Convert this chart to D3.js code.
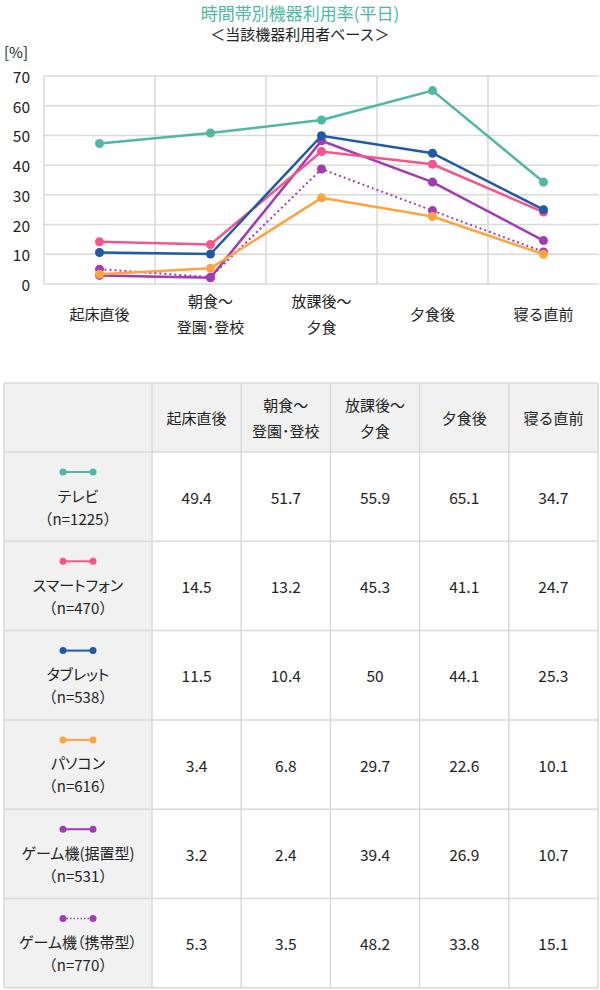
<!DOCTYPE html>
<html>
<head>
<meta charset="utf-8">
<script src="https://cdn.jsdelivr.net/npm/d3@7"></script>
<style>
  body { margin: 0; background: #fff; }
  svg { display: block; font-family: "Noto Sans CJK JP", "Noto Sans", sans-serif; }
  .palt { font-feature-settings: "palt"; }
</style>
</head>
<body>
<div id="chart"></div>
<script>
// ---------------- data ----------------
var categories = [["起床直後"], ["朝食～", "登園･登校"], ["放課後～", "夕食"], ["夕食後"], ["寝る直前"]];
var devices = ["テレビ", "スマートフォン", "タブレット", "パソコン", "ゲーム機(据置型)", "ゲーム機（携帯型）"];
var sampleSizes = ["（n=1225）", "（n=470）", "（n=538）", "（n=616）", "（n=531）", "（n=770）"];
var colors = ["#4fb8a5", "#f5558b", "#1f5aa6", "#ffa43d", "#a23bb3", "#a23bb3"];
var dotted = [false, false, false, false, false, true];

// values shown in the table
var tableValues = [
    ["49.4", "51.7", "55.9", "65.1", "34.7"],
    ["14.5", "13.2", "45.3", "41.1", "24.7"],
    ["11.5", "10.4", "50", "44.1", "25.3"],
    ["3.4", "6.8", "29.7", "22.6", "10.1"],
    ["3.2", "2.4", "39.4", "26.9", "10.7"],
    ["5.3", "3.5", "48.2", "33.8", "15.1"]
];

// values as plotted in the line chart
var chartValues = [
    [47.3, 50.8, 55.2, 65.1, 34.3],
    [14.2, 13.3, 44.6, 40.3, 24.2],
    [10.6, 10.1, 49.9, 44.0, 25.0],
    [3.3, 5.3, 29.0, 22.7, 10.0],
    [2.9, 2.1, 48.2, 34.3, 14.6],
    [5.0, 2.3, 38.7, 24.7, 10.8]
];
var drawOrder = [5, 4, 1, 0, 2, 3];
var yTicks = [0, 10, 20, 30, 40, 50, 60, 70];

// ---------------- layout ----------------
var W = 600, H = 990;
var plot = {left: 44, right: 599, top: 76, bottom: 284};
var table = {left: 4, right: 598, top: 383, headH: 69, rowH: 89.3, firstW: 148};

var svg = d3.select("#chart").append("svg")
    .attr("width", W)
    .attr("height", H);

// titles
svg.append("text")
    .attr("x", 300).attr("y", 12)
    .attr("text-anchor", "middle")
    .attr("dominant-baseline", "central")
    .attr("fill", "#4fb8a5")
    .style("font-size", "17px")
    .text("時間帯別機器利用率(平日)");

svg.append("text")
    .attr("x", 300).attr("y", 33)
    .attr("text-anchor", "middle")
    .attr("dominant-baseline", "central")
    .attr("fill", "#222")
    .style("font-size", "15px")
    .text("＜当該機器利用者ベース＞");

svg.append("text")
    .attr("x", 4).attr("y", 51)
    .attr("dominant-baseline", "central")
    .attr("fill", "#222")
    .style("font-size", "15px")
    .text("[%]");

// scales
var x = d3.scaleBand()
    .domain(d3.range(categories.length))
    .range([plot.left, plot.right]);

var y = d3.scaleLinear()
    .domain([0, 70])
    .range([plot.bottom, plot.top]);

// grid
var grid = svg.append("g").attr("class", "grid");
grid.selectAll(".hline")
    .data(yTicks)
    .enter().append("line")
    .attr("x1", plot.left).attr("x2", plot.right)
    .attr("y1", function(d) { return y(d); })
    .attr("y2", function(d) { return y(d); })
    .attr("stroke", "#d9d9d9")
    .attr("stroke-width", 1.5);

grid.selectAll(".vline")
    .data(d3.range(categories.length))
    .enter().append("line")
    .attr("x1", function(d) { return x(d); })
    .attr("x2", function(d) { return x(d); })
    .attr("y1", plot.top).attr("y2", plot.bottom)
    .attr("stroke", "#d9d9d9")
    .attr("stroke-width", 1.5);

// y axis labels
svg.append("g").selectAll("text")
    .data(yTicks)
    .enter().append("text")
    .attr("x", 30)
    .attr("y", function(d) { return y(d); })
    .attr("text-anchor", "end")
    .attr("dominant-baseline", "central")
    .attr("fill", "#222")
    .style("font-size", "15.5px")
    .text(function(d) { return d; });

// x axis labels
var xl = svg.append("g").selectAll("text")
    .data(categories)
    .enter().append("text")
    .attr("text-anchor", "middle")
    .attr("fill", "#222")
    .style("font-size", "15px");

xl.each(function(d, i) {
    var t = d3.select(this);
    var cx = x(i) + x.bandwidth() / 2;
    var y0 = d.length === 1 ? 313 : 300;
    d.forEach(function(s, j) {
        t.append("tspan")
            .attr("x", cx)
            .attr("y", y0 + j * 26)
            .attr("dominant-baseline", "central")
            .text(s);
    });
});

// lines
var line = d3.line()
    .x(function(d, i) { return x(i) + x.bandwidth() / 2; })
    .y(function(d) { return y(d); });

var series = svg.append("g").attr("class", "series").selectAll("g")
    .data(drawOrder)
    .enter().append("g");

series.append("path")
    .attr("d", function(k) { return line(chartValues[k]); })
    .attr("fill", "none")
    .attr("stroke", function(k) { return colors[k]; })
    .attr("stroke-width", function(k) { return dotted[k] ? 2 : 2.5; })
    .attr("stroke-dasharray", function(k) { return dotted[k] ? "2,3" : null; });

series.selectAll("circle")
    .data(function(k) { return chartValues[k].map(function(v) { return {v: v, k: k}; }); })
    .enter().append("circle")
    .attr("cx", function(d, i) { return x(i) + x.bandwidth() / 2; })
    .attr("cy", function(d) { return y(d.v); })
    .attr("r", 4.5)
    .attr("fill", function(d) { return colors[d.k]; });

// ---------------- table ----------------
var colW = (table.right - table.left - table.firstW) / categories.length;
var colX = function(c) { return table.left + table.firstW + c * colW; };
var rowY = function(r) { return table.top + table.headH + r * table.rowH; };
var tableBottom = rowY(devices.length);

var tg = svg.append("g").attr("class", "table");

// backgrounds
tg.append("rect")
    .attr("x", table.left).attr("y", table.top)
    .attr("width", table.right - table.left).attr("height", table.headH)
    .attr("fill", "#f1f1f1");
tg.append("rect")
    .attr("x", table.left).attr("y", table.top)
    .attr("width", table.firstW).attr("height", tableBottom - table.top)
    .attr("fill", "#f1f1f1");

// borders
var hLines = [table.top].concat(d3.range(devices.length + 1).map(rowY));
tg.selectAll(".th")
    .data(hLines)
    .enter().append("line")
    .attr("x1", table.left).attr("x2", table.right)
    .attr("y1", function(d) { return d; }).attr("y2", function(d) { return d; })
    .attr("stroke", "#d9d9d9").attr("stroke-width", 1.5);

var vLines = [table.left].concat(d3.range(categories.length + 1).map(colX));
tg.selectAll(".tv")
    .data(vLines)
    .enter().append("line")
    .attr("x1", function(d) { return d; }).attr("x2", function(d) { return d; })
    .attr("y1", table.top).attr("y2", tableBottom)
    .attr("stroke", "#d9d9d9").attr("stroke-width", 1.5);

// header
categories.forEach(function(c, i) {
    var t = tg.append("text")
        .attr("text-anchor", "middle")
        .attr("fill", "#222")
        .style("font-size", "15px");
    var cy = table.top + table.headH / 2;
    var y0 = c.length === 1 ? cy : cy - 13;
    c.forEach(function(s, j) {
        t.append("tspan")
            .attr("x", colX(i) + colW / 2)
            .attr("y", y0 + j * 26)
            .attr("dominant-baseline", "central")
            .text(s);
    });
});

// rows
devices.forEach(function(dev, r) {
    var top = rowY(r);
    var cx = table.left + table.firstW / 2;

    // legend icon
    tg.append("line")
        .attr("x1", cx - 15).attr("x2", cx + 15)
        .attr("y1", top + 20).attr("y2", top + 20)
        .attr("stroke", colors[r])
        .attr("stroke-width", dotted[r] ? 1.5 : 2)
        .attr("stroke-dasharray", dotted[r] ? "1.5,2" : null);
    [cx - 15, cx + 15].forEach(function(px) {
        tg.append("circle")
            .attr("cx", px).attr("cy", top + 20)
            .attr("r", 3.5)
            .attr("fill", colors[r]);
    });

    tg.append("text")
        .attr("class", "palt")
        .attr("x", cx).attr("y", top + 43)
        .attr("text-anchor", "middle")
        .attr("dominant-baseline", "central")
        .attr("fill", "#222")
        .style("font-size", "15px")
        .text(dev);
    tg.append("text")
        .attr("x", cx).attr("y", top + 66)
        .attr("text-anchor", "middle")
        .attr("dominant-baseline", "central")
        .attr("fill", "#222")
        .style("font-size", "15px")
        .text(sampleSizes[r]);

    tableValues[r].forEach(function(v, c) {
        tg.append("text")
            .attr("x", colX(c) + colW / 2)
            .attr("y", top + table.rowH / 2)
            .attr("text-anchor", "middle")
            .attr("dominant-baseline", "central")
            .attr("fill", "#222")
            .style("font-size", "15.5px")
            .text(v);
    });
});
</script>
</body>
</html>
